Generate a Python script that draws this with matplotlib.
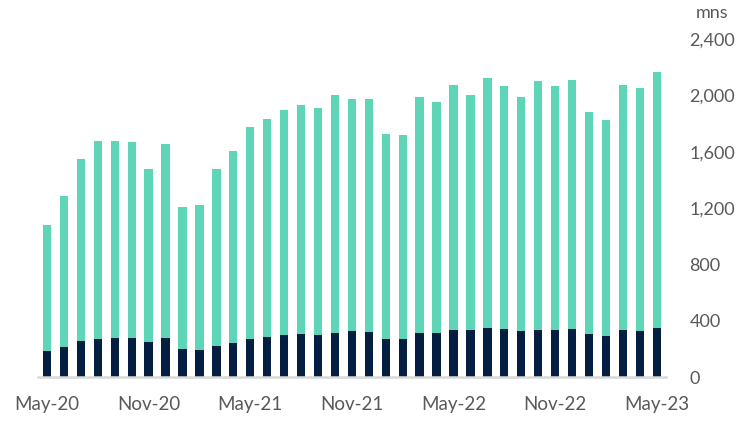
import matplotlib
matplotlib.use("Agg")
import matplotlib.pyplot as plt
import numpy as np

months = ["May-20", "Jun-20", "Jul-20", "Aug-20", "Sep-20", "Oct-20", "Nov-20", "Dec-20",
          "Jan-21", "Feb-21", "Mar-21", "Apr-21", "May-21", "Jun-21", "Jul-21", "Aug-21",
          "Sep-21", "Oct-21", "Nov-21", "Dec-21", "Jan-22", "Feb-22", "Mar-22", "Apr-22",
          "May-22", "Jun-22", "Jul-22", "Aug-22", "Sep-22", "Oct-22", "Nov-22", "Dec-22",
          "Jan-23", "Feb-23", "Mar-23", "Apr-23", "May-23"]

# bottom (dark) series
dark = [185, 213, 256, 270, 277, 277, 251, 277, 199, 192, 220, 241, 268, 284, 296, 305,
        301, 315, 324, 318, 270, 270, 315, 315, 336, 334, 348, 341, 327, 336, 336, 341,
        303, 291, 334, 327, 350]
# bar totals
total = [1077, 1288, 1550, 1674, 1674, 1667, 1475, 1653, 1207, 1219, 1475, 1605, 1776, 1835,
         1894, 1932, 1913, 2003, 1972, 1977, 1728, 1716, 1989, 1955, 2071, 2003, 2126, 2067,
         1986, 2102, 2064, 2109, 1884, 1825, 2074, 2053, 2166]
teal = [t - d for t, d in zip(total, dark)]

yticks = [0, 400, 800, 1200, 1600, 2000, 2400]

navy_c = "#041E42"
teal_c = "#5DD5B6"
grey = "#595959"

plt.rcParams['font.family'] = ['Lato', 'DejaVu Sans']

fig = plt.figure(figsize=(7.36, 4.22), dpi=100)
ax = fig.add_axes([0.0516, 0.1066, 0.853, 0.801])

x = np.arange(len(months))
ax.bar(x, dark, width=0.49, color=navy_c)
ax.bar(x, teal, width=0.49, bottom=dark, color=teal_c)

ax.set_xlim(-0.53, len(months) - 0.47)
ax.set_ylim(0, 2400)

ax.yaxis.tick_right()
ax.set_yticks(yticks)
ax.set_yticklabels([f"{v:,}" for v in yticks])
ax.tick_params(axis='y', length=0, pad=17, labelsize=13, labelcolor=grey)

ax.set_xticks(x[::6])
ax.set_xticklabels(months[::6])
ax.tick_params(axis='x', length=0, pad=14, labelsize=13.5, labelcolor=grey)

for s in ["top", "left", "right"]:
    ax.spines[s].set_visible(False)
ax.spines["bottom"].set_color("#D9D9D9")
ax.spines["bottom"].set_linewidth(1.8)

fig.text(0.945, 0.97, "mns", ha="left", va="center", fontsize=13, color=grey)

fig.savefig("out.png", dpi=100)
